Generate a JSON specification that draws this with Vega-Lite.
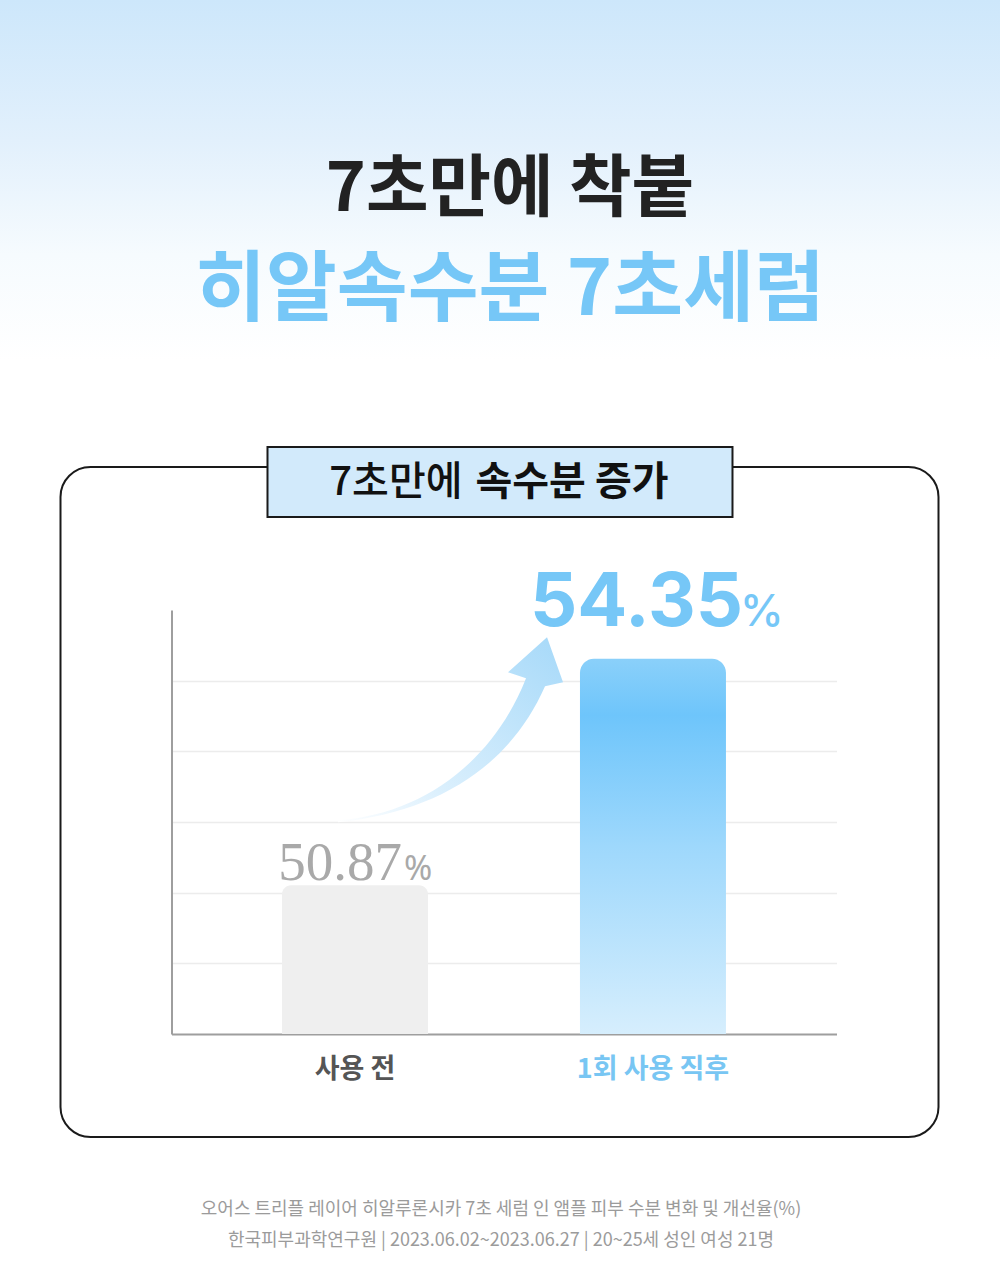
{
  "$schema": "https://vega.github.io/schema/vega-lite/v6.json",
  "background": "#ffffff",
  "padding": 0,
  "spacing": 20,
  "center": true,
  "config": {"view": {"stroke": null}, "font": "Noto Sans CJK KR"},
  "vconcat": [
    {
      "width": 1000,
      "height": 425,
      "view": {"stroke": null, "fill": {"gradient": "linear", "x1": 0, "y1": 0, "x2": 0, "y2": 1, "stops": [{"offset": 0, "color": "#cde7fb"}, {"offset": 0.33, "color": "#e2f0fc"}, {"offset": 0.6, "color": "#f6fbfe"}, {"offset": 0.85, "color": "#ffffff"}, {"offset": 1, "color": "#ffffff"}]}},
      "data": {"values": [{"line": "1", "text": "7초만에 착붙"}, {"line": "2", "text": "히알속수분 7초세럼"}]},
      "mark": {"type": "text", "font": "Noto Sans CJK KR", "fontWeight": "bold", "baseline": "middle", "align": "center", "dx": 10, "letterSpacing": -4},
      "encoding": {
        "y": {"field": "line", "type": "ordinal", "scale": {"type": "point", "range": [191, 292], "padding": 0}, "axis": null},
        "text": {"field": "text"},
        "color": {"field": "line", "type": "nominal", "scale": {"domain": ["1", "2"], "range": ["#222222", "#76c7f7"]}, "legend": null},
        "size": {"field": "line", "type": "ordinal", "scale": {"domain": ["1", "2"], "range": [68, 77]}, "legend": null}
      }
    },
    {
      "width": 878,
      "height": 670,
      "view": {"stroke": "#1a1a1a", "strokeWidth": 2, "cornerRadius": 30, "fill": "#ffffff"},
      "layer": [
        {
          "data": {"values": [{"stage": "사용 전", "value": 50.87}, {"stage": "1회 사용 직후", "value": 54.35}]},
          "encoding": {
            "x": {
              "field": "stage", "type": "nominal", "sort": ["사용 전", "1회 사용 직후"],
              "scale": {"type": "band", "range": [111, 776], "paddingInner": 0.51, "paddingOuter": 0.371},
              "axis": {
                "orient": "bottom", "offset": -103, "title": null, "grid": false,
                "domainColor": "#9e9e9e", "domainWidth": 2, "ticks": false, "tickSize": 0,
                "labelPadding": 22, "labelAngle": 0, "labelFontSize": 27, "labelFontWeight": "bold", "labelFont": "Noto Sans CJK KR",
                "labelColor": {"condition": {"test": "datum.value === '사용 전'", "value": "#555555"}, "value": "#78c6f3"}
              }
            },
            "y": {
              "field": "value", "type": "quantitative",
              "scale": {"domain": [48.586, 55.1], "range": [567, 143], "zero": false, "nice": false},
              "axis": {
                "offset": -111, "title": null, "labels": false, "ticks": false, "tickSize": 0,
                "domainColor": "#9e9e9e", "domainWidth": 2,
                "grid": true, "gridColor": "#ececec", "gridWidth": 1.5,
                "values": [49.672, 50.757, 51.843, 52.928, 54.014]
              }
            }
          },
          "layer": [
            {
              "transform": [{"filter": "datum.stage === '사용 전'"}],
              "mark": {"type": "bar", "fill": "#efefef", "cornerRadiusTopLeft": 9, "cornerRadiusTopRight": 9},
              "encoding": {"y2": {"datum": 48.586}}
            },
            {
              "transform": [{"filter": "datum.stage === '1회 사용 직후'"}],
              "mark": {"type": "bar", "cornerRadiusTopLeft": 14, "cornerRadiusTopRight": 14,
                "fill": {"gradient": "linear", "x1": 0, "y1": 0, "x2": 0, "y2": 1, "stops": [{"offset": 0, "color": "#8ad0fa"}, {"offset": 0.15, "color": "#6ec5fb"}, {"offset": 0.5, "color": "#9ed8fc"}, {"offset": 1, "color": "#d6eefd"}]}},
              "encoding": {"y2": {"datum": 48.586}}
            },
            {
              "transform": [{"filter": "datum.stage === '사용 전'"}],
              "mark": {"type": "point", "shape": "M-17,-65C65,-71 137,-121 171,-207L153,-213L192,-248L208,-203L190,-199C155,-120 85,-74 -17,-63Z", "size": 4, "filled": true, "strokeWidth": 0, "opacity": 1,
                "fill": {"gradient": "linear", "x1": 0, "y1": 1, "x2": 1, "y2": 0, "stops": [{"offset": 0, "color": "#ffffff"}, {"offset": 0.3, "color": "#dcf0fd"}, {"offset": 1, "color": "#a6d9f9"}]}}
            },
            {
              "transform": [{"filter": "datum.stage === '사용 전'"}],
              "mark": {"type": "text", "font": "Liberation Serif", "fontSize": 55, "color": "#a9a9a9", "align": "right", "baseline": "alphabetic", "dx": 47, "dy": -5},
              "encoding": {"text": {"field": "value", "type": "quantitative", "format": ".2f"}}
            },
            {
              "transform": [{"filter": "datum.stage === '사용 전'"}],
              "mark": {"type": "text", "font": "Noto Sans", "fontSize": 34, "color": "#a9a9a9", "align": "left", "baseline": "alphabetic", "dx": 49, "dy": -5},
              "encoding": {"text": {"value": "%"}}
            },
            {
              "transform": [{"filter": "datum.stage === '1회 사용 직후'"}],
              "mark": {"type": "text", "font": "Inter", "fontWeight": "bold", "fontSize": 74, "letterSpacing": -7, "color": "#76c7f7", "align": "right", "baseline": "alphabetic", "dx": 90, "dy": -33},
              "encoding": {"text": {"field": "value", "type": "quantitative", "format": ".2f"}}
            },
            {
              "transform": [{"filter": "datum.stage === '1회 사용 직후'"}],
              "mark": {"type": "text", "font": "Inter", "fontWeight": 500, "fontSize": 44, "color": "#76c7f7", "align": "left", "baseline": "alphabetic", "dx": 87, "dy": -33},
              "encoding": {"text": {"value": "%"}}
            }
          ]
        },
        {
          "data": {"values": [{"a": "7초만에", "b": "속수분 증가"}]},
          "layer": [
            {
              "mark": {"type": "rect", "fill": "#d2eafb", "stroke": "#1a1a1a", "strokeWidth": 2},
              "encoding": {
                "x": {"datum": "사용 전", "type": "nominal", "bandPosition": -0.0996},
                "x2": {"datum": "1회 사용 직후", "bandPosition": 1.0447},
                "y": {"datum": 57.604, "type": "quantitative"},
                "y2": {"datum": 56.529}
              }
            },
            {
              "mark": {"type": "text", "font": "Noto Sans CJK KR", "fontSize": 40, "fontWeight": 500, "color": "#111111", "align": "right", "baseline": "middle", "dx": -37, "dy": 1, "letterSpacing": -1.5},
              "encoding": {"y": {"datum": 57.067, "type": "quantitative"}, "text": {"field": "a"}}
            },
            {
              "mark": {"type": "text", "font": "Noto Sans CJK KR", "fontSize": 40, "fontWeight": "bold", "color": "#111111", "align": "left", "baseline": "middle", "dx": -24, "dy": 1, "letterSpacing": -1.5},
              "encoding": {"y": {"datum": 57.067, "type": "quantitative"}, "text": {"field": "b"}}
            }
          ]
        }
      ]
    },
    {
      "width": 1000,
      "height": 110,
      "data": {"values": [{"line": "1", "text": "오어스 트리플 레이어 히알루론시카 7초 세럼 인 앰플 피부 수분 변화 및 개선율(%)"}, {"line": "2", "text": "한국피부과학연구원 | 2023.06.02~2023.06.27 | 20~25세 성인 여성 21명"}]},
      "mark": {"type": "text", "font": "Noto Sans CJK KR", "fontSize": 18, "color": "#9b9b9b", "baseline": "middle", "align": "center", "dx": 1},
      "encoding": {
        "y": {"field": "line", "type": "ordinal", "scale": {"type": "point", "range": [52, 83], "padding": 0}, "axis": null},
        "text": {"field": "text"}
      }
    }
  ]
}
